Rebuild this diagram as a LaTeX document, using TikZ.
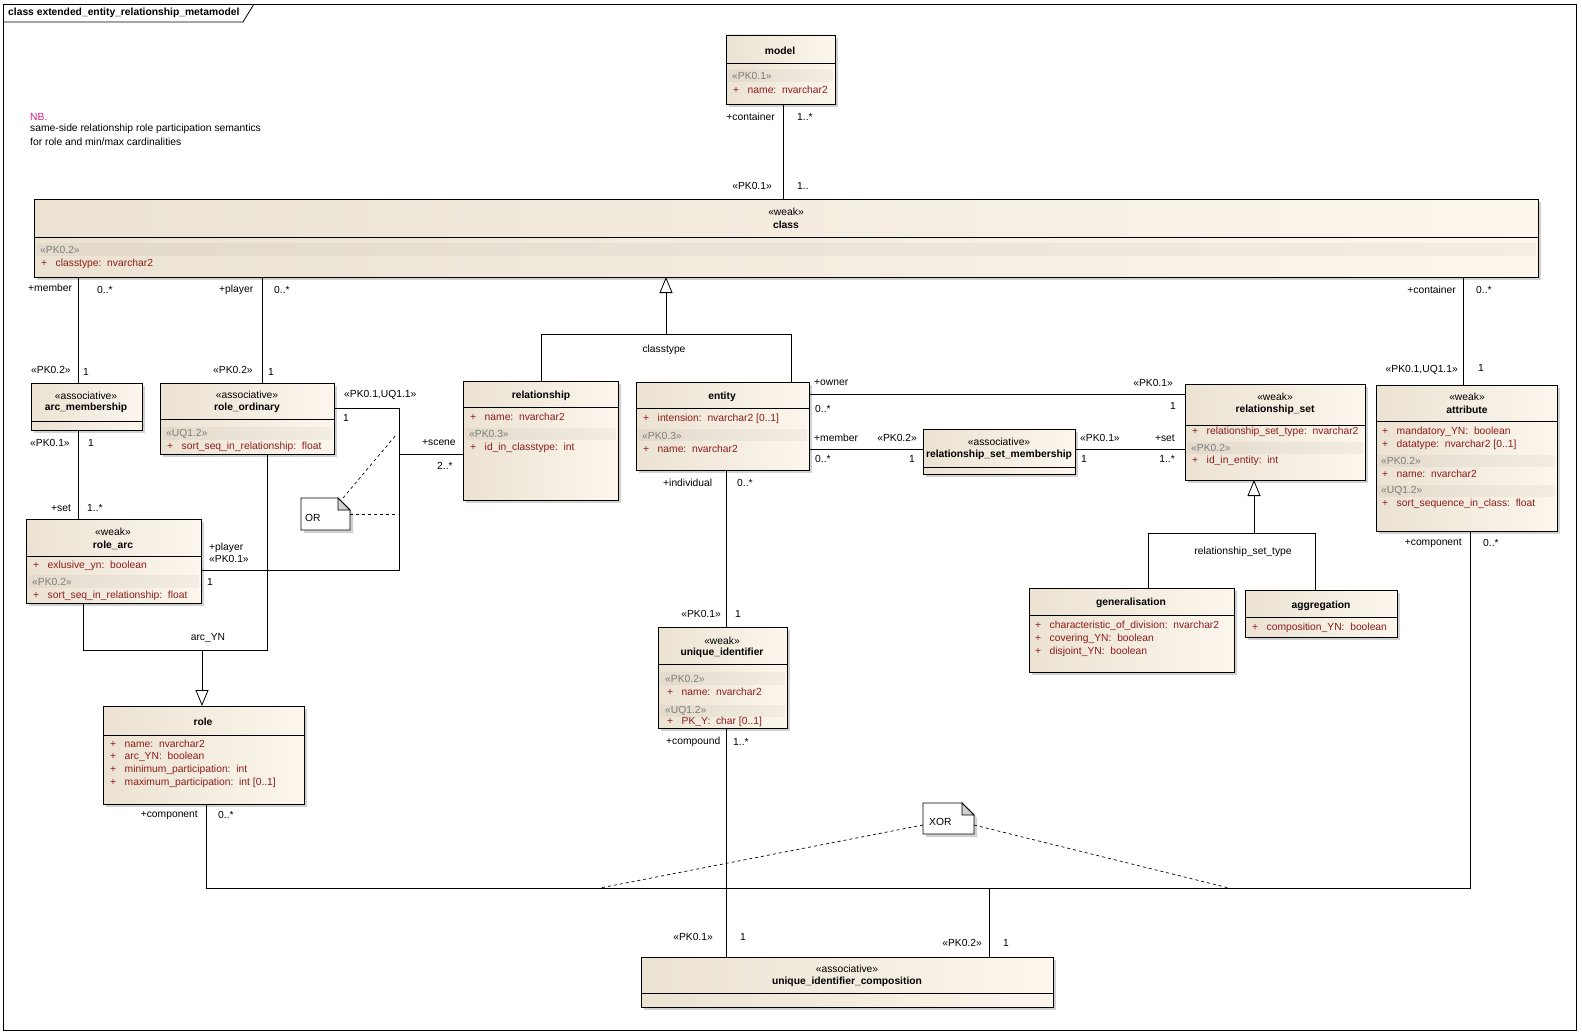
\documentclass[tikz,border=0pt]{standalone}
\usepackage{fontspec}
\setmainfont{Liberation Sans}
\usetikzlibrary{arrows.meta,fit,shadows}
\definecolor{boxL}{RGB}{235,226,210}
\definecolor{boxR}{RGB}{252,246,237}
\definecolor{attrred}{RGB}{140,28,28}
\definecolor{stgray}{RGB}{125,125,125}
\definecolor{nbpink}{RGB}{222,30,130}
\newcommand\dfont{\fontsize{10.3}{12}\selectfont}
\newcommand\mkbox[6]{\node[umlbox, fit={(#2,#3) (#4,#5)}] (#1) {};\draw[divline] (#2,#6) -- (#4,#6);}
\newcommand\band[4]{\fill[bandfill] (#1,#2) rectangle (#3,#4);}
\newcommand\pl{+\hspace{8.5pt}}
\begin{document}
\begin{tikzpicture}[x=1pt,y=-1pt,
  umlbox/.style={draw=black, line width=0.8pt, inner sep=0pt, outer sep=0pt,
    left color=boxL, right color=boxR,
    drop shadow={shadow xshift=3pt,shadow yshift=-3pt,fill=black!40,opacity=.45}},
  divline/.style={line width=0.8pt},
  bandfill/.style={fill=black, fill opacity=0.035},
  ttl/.style={font=\dfont\bfseries, inner sep=0pt},
  ster/.style={font=\dfont, inner sep=0pt},
  sterg/.style={font=\dfont, text=stgray, inner sep=0pt, anchor=west},
  att/.style={font=\dfont, text=attrred, inner sep=0pt, anchor=west},
  lab/.style={font=\dfont, inner sep=0pt},
  conn/.style={line width=0.8pt},
  genarrow/.style={line width=0.8pt, -{Triangle[open,length=16pt,width=13pt]}},
  notedash/.style={line width=0.7pt, dash pattern=on 3pt off 3pt},
  notestyle/.style={draw=black, line width=0.8pt, fill=white,
    drop shadow={shadow xshift=3pt,shadow yshift=-3pt,fill=black!40,opacity=.45}},
  noteanchor/.style={inner sep=0pt, outer sep=0pt}
]
\useasboundingbox (0,0) rectangle (1582,1033);
\fill[white] (0,0) rectangle (1582,1033);
% frame
\draw[line width=0.8pt] (3,4) rectangle (1576,1030);
\draw[line width=0.8pt] (3,22) -- (243,22) -- (254,4);
\node[font=\dfont\bfseries, inner sep=0pt, anchor=west] (frametitle) at (8,13) {class extended\_entity\_relationship\_metamodel};
% NB note text
\node[font=\dfont, text=nbpink, inner sep=0pt, anchor=west] (nb1) at (30,117) {NB.};
\node[font=\dfont, inner sep=0pt, anchor=west] (nb2) at (30,129) {same-side relationship role participation semantics};
\node[font=\dfont, inner sep=0pt, anchor=west] (nb3) at (30,142) {for role and min/max cardinalities};

% ---------- boxes ----------
% model
\mkbox{model}{726}{35}{835}{104}{63}
\band{728}{69}{833}{82}
\node[ttl] (model-n) at (780,51) {model};
\node[sterg] (model-s) at (732,76) {«PK0.1»};
\node[att] (model-a) at (733,90) {\pl name:~~nvarchar2};
% class
\mkbox{class}{34}{199}{1538}{277}{237}
\band{36}{243}{1536}{256}
\node[ster] (class-st) at (786,212) {«weak»};
\node[ttl] (class-n) at (786,225) {class};
\node[sterg] (class-s) at (40,250) {«PK0.2»};
\node[att] (class-a) at (41,264) {\pl classtype:~~nvarchar2};
% arc_membership
\mkbox{arcm}{31}{383}{142}{430}{421}
\node[ster] (arcm-st) at (86,396) {«associative»};
\node[ttl] (arcm-n) at (86,408) {arc\_membership};
% role_ordinary
\mkbox{rolo}{160}{383}{334}{454}{419}
\band{162}{427}{332}{440}
\node[ster] (rolo-st) at (247,395) {«associative»};
\node[ttl] (rolo-n) at (247,408) {role\_ordinary};
\node[sterg] (rolo-s) at (166,434) {«UQ1.2»};
\node[att] (rolo-a) at (167,447) {\pl sort\_seq\_in\_relationship:~~float};
% role_arc
\mkbox{rarc}{26}{519}{201}{603}{556}
\band{28}{575}{199}{588}
\node[ster] (rarc-st) at (113,532) {«weak»};
\node[ttl] (rarc-n) at (113,545) {role\_arc};
\node[att] (rarc-a1) at (33,566) {\pl exlusive\_yn:~~boolean};
\node[sterg] (rarc-s) at (32,582) {«PK0.2»};
\node[att] (rarc-a2) at (33,596) {\pl sort\_seq\_in\_relationship:~~float};
% role
\mkbox{role}{103}{706}{304}{804}{735}
\node[ttl] (role-n) at (203,722) {role};
\node[att] (role-a1) at (110,744) {\pl name:~~nvarchar2};
\node[att] (role-a2) at (110,757) {\pl arc\_YN:~~boolean};
\node[att] (role-a3) at (110,770) {\pl minimum\_participation:~~int};
\node[att] (role-a4) at (110,783) {\pl maximum\_participation:~~int [0..1]};
% relationship
\mkbox{rel}{463}{381}{618}{500}{407}
\band{465}{428}{616}{440}
\node[ttl] (rel-n) at (541,396) {relationship};
\node[att] (rel-a1) at (470,417) {\pl name:~~nvarchar2};
\node[sterg] (rel-s) at (469,434) {«PK0.3»};
\node[att] (rel-a2) at (470,448) {\pl id\_in\_classtype:~~int};
% entity
\mkbox{ent}{636}{382}{809}{470}{408}
\band{638}{429}{807}{441}
\node[ttl] (ent-n) at (722,397) {entity};
\node[att] (ent-a1) at (643,419) {\pl intension:~~nvarchar2 [0..1]};
\node[sterg] (ent-s) at (642,436) {«PK0.3»};
\node[att] (ent-a2) at (643,449) {\pl name:~~nvarchar2};
% relationship_set_membership
\mkbox{rsm}{923}{429}{1075}{474}{467}
\node[ster] (rsm-st) at (999,442) {«associative»};
\node[ttl] (rsm-n) at (999,455) {relationship\_set\_membership};
% relationship_set
\mkbox{rs}{1185}{384}{1365}{480}{425}
\band{1187}{442}{1363}{454}
\node[ster] (rs-st) at (1275,397) {«weak»};
\node[ttl] (rs-n) at (1275,410) {relationship\_set};
\node[att] (rs-a1) at (1192,432) {\pl relationship\_set\_type:~~nvarchar2};
\node[sterg] (rs-s) at (1191,448) {«PK0.2»};
\node[att] (rs-a2) at (1192,461) {\pl id\_in\_entity:~~int};
% attribute
\mkbox{attr}{1376}{385}{1557}{531}{421}
\band{1378}{455}{1555}{467}
\band{1378}{485}{1555}{497}
\node[ster] (attr-st) at (1467,397) {«weak»};
\node[ttl] (attr-n) at (1467,410) {attribute};
\node[att] (attr-a1) at (1382,432) {\pl mandatory\_YN:~~boolean};
\node[att] (attr-a2) at (1382,445) {\pl datatype:~~nvarchar2 [0..1]};
\node[sterg] (attr-s1) at (1381,461) {«PK0.2»};
\node[att] (attr-a3) at (1382,474) {\pl name:~~nvarchar2};
\node[sterg] (attr-s2) at (1381,491) {«UQ1.2»};
\node[att] (attr-a4) at (1382,504) {\pl sort\_sequence\_in\_class:~~float};
% generalisation
\mkbox{gen}{1029}{588}{1234}{672}{615}
\node[ttl] (gen-n) at (1131,603) {generalisation};
\node[att] (gen-a1) at (1035,626) {\pl characteristic\_of\_division:~~nvarchar2};
\node[att] (gen-a2) at (1035,639) {\pl covering\_YN:~~boolean};
\node[att] (gen-a3) at (1035,652) {\pl disjoint\_YN:~~boolean};
% aggregation
\mkbox{agg}{1245}{590}{1397}{637}{617}
\node[ttl] (agg-n) at (1321,606) {aggregation};
\node[att] (agg-a1) at (1252,628) {\pl composition\_YN:~~boolean};
% unique_identifier
\mkbox{uid}{658}{627}{787}{728}{664}
\band{660}{672}{785}{685}
\band{660}{705}{785}{717}
\node[ster] (uid-st) at (722,641) {«weak»};
\node[ttl] (uid-n) at (722,653) {unique\_identifier};
\node[sterg] (uid-s1) at (665,679) {«PK0.2»};
\node[att] (uid-a1) at (667,692) {\pl name:~~nvarchar2};
\node[sterg] (uid-s2) at (665,711) {«UQ1.2»};
\node[att] (uid-a2) at (667,722) {\pl PK\_Y:~~char [0..1]};
% unique_identifier_composition
\mkbox{uic}{641}{957}{1053}{1007}{993}
\node[ster] (uic-st) at (847,969) {«associative»};
\node[ttl] (uic-n) at (847,982) {unique\_identifier\_composition};

% ---------- notes ----------
\node[noteanchor, fit={(301,498) (350,530)}] (ornote) {};
\draw[notestyle] (ornote.north west) -- ([xshift=-12pt]ornote.north east) -- ([yshift=-12pt]ornote.north east) -- (ornote.south east) -- (ornote.south west) -- cycle;
\draw[line width=0.8pt, fill=black!18] ([xshift=-12pt]ornote.north east) -- ([xshift=-12pt,yshift=-12pt]ornote.north east) -- ([yshift=-12pt]ornote.north east) -- cycle;
\node[lab, anchor=west] (ornote-t) at (305,518) {OR};
\node[noteanchor, fit={(923,803) (974,834)}] (xornote) {};
\draw[notestyle] (xornote.north west) -- ([xshift=-12pt]xornote.north east) -- ([yshift=-12pt]xornote.north east) -- (xornote.south east) -- (xornote.south west) -- cycle;
\draw[line width=0.8pt, fill=black!18] ([xshift=-12pt]xornote.north east) -- ([xshift=-12pt,yshift=-12pt]xornote.north east) -- ([yshift=-12pt]xornote.north east) -- cycle;
\node[lab, anchor=west] (xornote-t) at (929,822) {XOR};

% ---------- connectors ----------
\coordinate (scA) at (399,408);
\coordinate (scB) at (399,570);
\coordinate (scC) at (399,454);
\coordinate (orA) at (396,435);
\coordinate (orB) at (398,514);
\coordinate (agA) at (83,650);
\coordinate (agB) at (267,650);
\coordinate (agC) at (202,650);
\coordinate (ctA) at (541,334);
\coordinate (ctB) at (791,334);
\coordinate (ctC) at (666,334);
\coordinate (rtA) at (1148,533);
\coordinate (rtB) at (1315,533);
\coordinate (rtC) at (1254,533);
\coordinate (cpA) at (206,888);
\coordinate (cpB) at (1470,888);
\coordinate (cpC) at (989,888);
\coordinate (xA) at (600,888);
\coordinate (xB) at (1229,888);

\draw[conn] (model.south -| 783,0) -- (class.north -| 783,0);
\draw[conn] (class.south -| 78,0) -- (arcm.north -| 78,0);
\draw[conn] (class.south -| 262,0) -- (rolo.north -| 262,0);
\draw[conn] (arcm.south -| 78,0) -- (rarc.north -| 78,0);
\draw[conn] (rolo.east |- scA) -- (scA) -- (scB) -- (rarc.east |- scB);
\draw[conn] (scC) -- (rel.west |- scC);
\draw[notedash] (ornote.north -| 343,0) -- (orA);
\draw[notedash] (ornote.east |- orB) -- (orB);
\draw[conn] (rarc.south -| agA) -- (agA) -- (agB) -- (rolo.south -| agB);
\draw[genarrow] (agC) -- (role.north -| agC);
\draw[conn] (rel.north -| ctA) -- (ctA) -- (ctB) -- (ent.north -| ctB);
\draw[genarrow] (ctC) -- (class.south -| ctC);
\draw[conn] (ent.east |- 0,394) -- (rs.west |- 0,394);
\draw[conn] (ent.east |- 0,449) -- (rsm.west |- 0,449);
\draw[conn] (rsm.east |- 0,449) -- (rs.west |- 0,449);
\draw[conn] (gen.north -| rtA) -- (rtA) -- (rtB) -- (agg.north -| rtB);
\draw[genarrow] (rtC) -- (rs.south -| rtC);
\draw[conn] (class.south -| 1463,0) -- (attr.north -| 1463,0);
\draw[conn] (ent.south -| 726,0) -- (uid.north -| 726,0);
\draw[conn] (uid.south -| 726,0) -- (uic.north -| 726,0);
\draw[conn] (role.south -| cpA) -- (cpA) -- (cpB) -- (attr.south -| cpB);
\draw[conn] (cpC) -- (uic.north -| cpC);
\draw[notedash] (xornote.west |- 0,825) -- (xA);
\draw[notedash] (xornote.east |- 0,825) -- (xB);

% ---------- connector labels ----------
\node[lab, anchor=east] (l1) at (775,117) {+container};
\node[lab, anchor=west] (l2) at (797,117) {1..*};
\node[lab, anchor=east] (l3) at (772,186) {«PK0.1»};
\node[lab, anchor=west] (l4) at (797,186) {1..};
\node[lab, anchor=west] (l5) at (28,288) {+member};
\node[lab, anchor=west] (l6) at (97,290) {0..*};
\node[lab, anchor=west] (l7) at (219,290) {+player};
\node[lab, anchor=west] (l8) at (274,290) {0..*};
\node[lab, anchor=west] (l9) at (31,370) {«PK0.2»};
\node[lab, anchor=west] (l10) at (83,372) {1};
\node[lab, anchor=west] (l11) at (213,370) {«PK0.2»};
\node[lab, anchor=west] (l12) at (268,372) {1};
\node[lab, anchor=west] (l13) at (30,443) {«PK0.1»};
\node[lab, anchor=west] (l14) at (88,443) {1};
\node[lab, anchor=west] (l15) at (51,508) {+set};
\node[lab, anchor=west] (l16) at (87,508) {1..*};
\node[lab, anchor=west] (l17) at (344,395) {«PK0.1,UQ1.1»};
\node[lab, anchor=west] (l18) at (343,418) {1};
\node[lab, anchor=west] (l19) at (422,443) {+scene};
\node[lab, anchor=west] (l20) at (437,466) {2..*};
\node[lab, anchor=west] (l21) at (209,548) {+player};
\node[lab, anchor=west] (l22) at (209,559) {«PK0.1»};
\node[lab, anchor=west] (l23) at (207,582) {1};
\node[lab] (l24) at (208,638) {arc\_YN};
\node[lab] (l25) at (664,350) {classtype};
\node[lab, anchor=west] (l26) at (814,383) {+owner};
\node[lab, anchor=west] (l27) at (815,409) {0..*};
\node[lab, anchor=east] (l28) at (1173,383) {«PK0.1»};
\node[lab, anchor=east] (l29) at (1176,406) {1};
\node[lab, anchor=west] (l30) at (814,438) {+member};
\node[lab, anchor=east] (l31) at (917,438) {«PK0.2»};
\node[lab, anchor=west] (l32) at (815,459) {0..*};
\node[lab] (l33) at (912,459) {1};
\node[lab, anchor=west] (l34) at (1080,438) {«PK0.1»};
\node[lab, anchor=east] (l35) at (1175,438) {+set};
\node[lab, anchor=west] (l36) at (1081,459) {1};
\node[lab, anchor=east] (l37) at (1175,459) {1..*};
\node[lab] (l38) at (1243,552) {relationship\_set\_type};
\node[lab, anchor=east] (l39) at (1456,290) {+container};
\node[lab, anchor=west] (l40) at (1476,290) {0..*};
\node[lab, anchor=east] (l41) at (1458,370) {«PK0.1,UQ1.1»};
\node[lab, anchor=west] (l42) at (1478,368) {1};
\node[lab, anchor=east] (l43) at (1462,543) {+component};
\node[lab, anchor=west] (l44) at (1483,543) {0..*};
\node[lab, anchor=west] (l45) at (663,483) {+individual};
\node[lab, anchor=west] (l46) at (737,483) {0..*};
\node[lab, anchor=east] (l47) at (721,614) {«PK0.1»};
\node[lab, anchor=west] (l48) at (735,614) {1};
\node[lab, anchor=west] (l49) at (666,742) {+compound};
\node[lab, anchor=west] (l50) at (733,742) {1..*};
\node[lab, anchor=east] (l51) at (713,937) {«PK0.1»};
\node[lab, anchor=west] (l52) at (740,937) {1};
\node[lab, anchor=east] (l53) at (982,943) {«PK0.2»};
\node[lab, anchor=west] (l54) at (1003,943) {1};
\node[lab, anchor=east] (l55) at (198,815) {+component};
\node[lab, anchor=west] (l56) at (218,815) {0..*};
\end{tikzpicture}
\end{document}
